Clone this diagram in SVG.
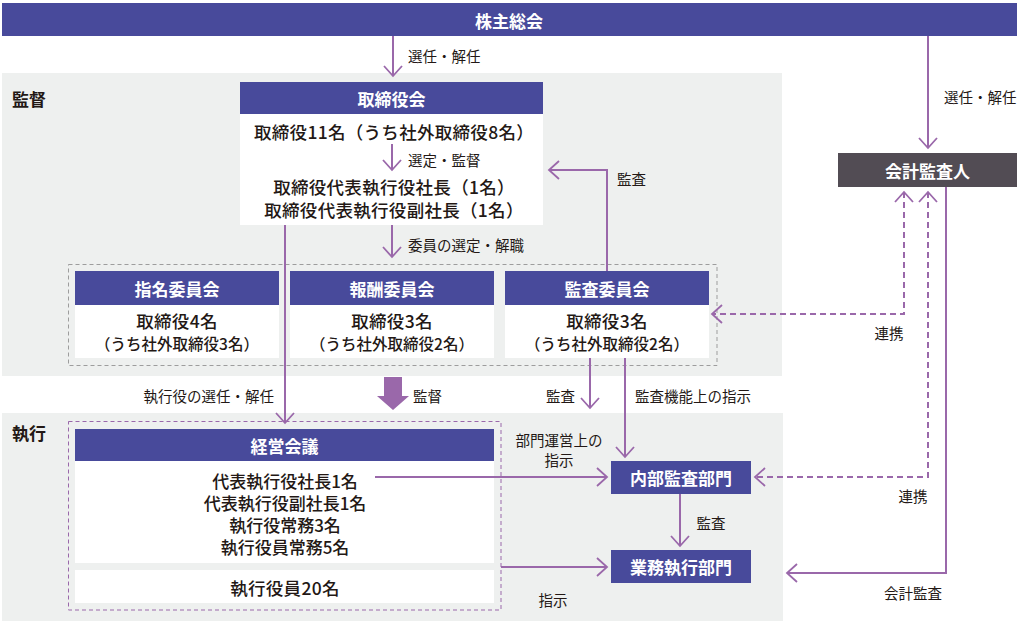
<svg xmlns="http://www.w3.org/2000/svg" width="1019" height="624" viewBox="0 0 1019 624">
<defs>
<style>
.t{font-family:"Noto Sans CJK JP","Noto Sans",sans-serif;fill:#231815;dominant-baseline:central}
.h{font-family:"Noto Sans CJK JP","Noto Sans",sans-serif;fill:#ffffff;font-weight:700;font-size:17px;text-anchor:middle;dominant-baseline:central}
.b{font-size:17.5px;font-weight:500;text-anchor:middle;letter-spacing:0.3px}
.e{font-size:17px;font-weight:500;text-anchor:middle}
.s{font-size:15.5px;font-weight:500;text-anchor:middle}
.l{font-size:14.5px}
.m{text-anchor:middle}
.sec{font-size:17px;font-weight:700}
.hd{fill:#484a9b}
.wb{fill:#ffffff}
.bg{fill:#eef0ef}
.c{fill:none;stroke:#9a68aa;stroke-width:2}
.d{fill:none;stroke:#9a68aa;stroke-width:2;stroke-dasharray:6 4}
</style>
<marker id="arr" viewBox="-12 -11 14 22" refX="0" refY="0" markerWidth="14" markerHeight="22" markerUnits="userSpaceOnUse" orient="auto-start-reverse">
<path d="M-10,-9 L0,0 L-10,9" fill="none" stroke="#9a68aa" stroke-width="1.8"/>
</marker>
</defs>

<g id="regions">
<rect class="bg" x="2" y="73" width="780" height="303"/>
<rect class="bg" x="2" y="413" width="781" height="208"/>
<text class="t sec" x="12" y="98">監督</text>
<text class="t sec" x="12" y="432">執行</text>
<rect x="68.5" y="264.5" width="648.5" height="101" fill="none" stroke="#9d9d9d" stroke-width="1" stroke-dasharray="4 3"/>
<rect x="68.5" y="421.5" width="432.5" height="188.5" fill="none" stroke="#9a68aa" stroke-width="1" stroke-dasharray="4 3"/>
</g>

<g id="shareholders">
<rect class="hd" x="2" y="3" width="1015" height="33"/>
<text class="h" x="509" y="20">株主総会</text>
</g>

<g id="board">
<rect class="hd" x="240" y="82" width="303" height="32"/>
<rect class="wb" x="240" y="114" width="303" height="111"/>
<text class="h" x="391.5" y="98">取締役会</text>
<text class="t b" x="394" y="131">取締役11名（うち社外取締役8名）</text>
<text class="t b" x="394" y="186">取締役代表執行役社長（1名）</text>
<text class="t b" x="394" y="209">取締役代表執行役副社長（1名）</text>
</g>

<g id="nomination">
<rect class="hd" x="75" y="271" width="204" height="34"/>
<rect class="wb" x="75" y="305" width="204" height="53"/>
<text class="h" x="177" y="288">指名委員会</text>
<text class="t b" x="177" y="320">取締役4名</text>
<text class="t s" x="177" y="343">（うち社外取締役3名）</text>
</g>

<g id="compensation">
<rect class="hd" x="290" y="271" width="204" height="34"/>
<rect class="wb" x="290" y="305" width="204" height="53"/>
<text class="h" x="392" y="288">報酬委員会</text>
<text class="t b" x="392" y="320">取締役3名</text>
<text class="t s" x="392" y="343">（うち社外取締役2名）</text>
</g>

<g id="audit-committee">
<rect class="hd" x="505" y="271" width="204" height="34"/>
<rect class="wb" x="505" y="305" width="204" height="53"/>
<text class="h" x="607" y="288">監査委員会</text>
<text class="t b" x="607" y="320">取締役3名</text>
<text class="t s" x="607" y="343">（うち社外取締役2名）</text>
</g>

<g id="auditor">
<rect x="838" y="153" width="179" height="34" fill="#524c54"/>
<text class="h" x="927.5" y="170">会計監査人</text>
</g>

<g id="management-meeting">
<rect class="hd" x="75" y="429" width="419" height="32"/>
<rect class="wb" x="75" y="461" width="419" height="102"/>
<rect class="wb" x="75" y="570" width="419" height="33"/>
<text class="h" x="284.5" y="445">経営会議</text>
<text class="t e" x="285" y="480">代表執行役社長1名</text>
<text class="t e" x="285" y="502">代表執行役副社長1名</text>
<text class="t e" x="285" y="524">執行役常務3名</text>
<text class="t e" x="285" y="546">執行役員常務5名</text>
<text class="t b" x="285" y="587">執行役員20名</text>
</g>

<g id="internal-audit">
<rect class="hd" x="611" y="461" width="140" height="33"/>
<text class="h" x="681" y="477.5">内部監査部門</text>
</g>

<g id="business">
<rect class="hd" x="611" y="550" width="140" height="33"/>
<text class="h" x="681" y="566.5">業務執行部門</text>
</g>

<g id="connectors">
<path class="c" d="M393,36 V76" marker-end="url(#arr)"/>
<path class="c" d="M928,36 V148" marker-end="url(#arr)"/>
<path class="c" d="M392,144 V170" marker-end="url(#arr)"/>
<path class="c" d="M392,225 V257" marker-end="url(#arr)"/>
<path class="c" d="M285,225 V423" marker-end="url(#arr)"/>
<path class="c" d="M607,271 V170 H549" marker-end="url(#arr)"/>
<path d="M384,377 H402 V396 H409 L393,410 L377,396 H384 Z" fill="#9a68aa"/>
<path class="c" d="M590,358 V408" marker-end="url(#arr)"/>
<path class="c" d="M625,358 V457" marker-end="url(#arr)"/>
<path class="c" d="M375,477 H607" marker-end="url(#arr)"/>
<path class="c" d="M501,567 H607" marker-end="url(#arr)"/>
<path class="c" d="M680,494 V546" marker-end="url(#arr)"/>
<path class="d" d="M904,192 V314 H712" marker-start="url(#arr)" marker-end="url(#arr)"/>
<path class="d" d="M928,192 V477 H755" marker-start="url(#arr)" marker-end="url(#arr)"/>
<path class="c" d="M946,187 V573 H787" marker-end="url(#arr)"/>
<text class="t l" x="408" y="55">選任・解任</text>
<text class="t l" x="944" y="96">選任・解任</text>
<text class="t l" x="408" y="159">選定・監督</text>
<text class="t l" x="408" y="244">委員の選定・解職</text>
<text class="t l" x="274" y="395" text-anchor="end">執行役の選任・解任</text>
<text class="t l" x="617" y="178">監査</text>
<text class="t l" x="413" y="395">監督</text>
<text class="t l" x="546" y="395">監査</text>
<text class="t l" x="635" y="395">監査機能上の指示</text>
<text class="t l m" x="889" y="332">連携</text>
<text class="t l m" x="559" y="439">部門運営上の</text>
<text class="t l m" x="559" y="459">指示</text>
<text class="t l m" x="913" y="495">連携</text>
<text class="t l m" x="711" y="522">監査</text>
<text class="t l m" x="553" y="599">指示</text>
<text class="t l m" x="913" y="592">会計監査</text>
</g>
</svg>
